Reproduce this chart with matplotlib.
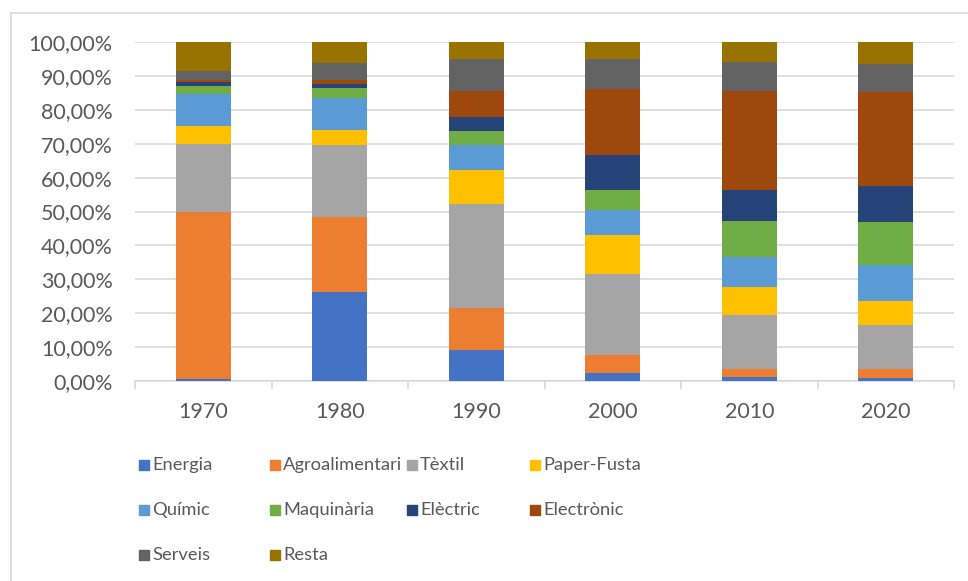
import numpy as np
import matplotlib
matplotlib.use("Agg")
import matplotlib.pyplot as plt
from matplotlib.patches import Rectangle
from matplotlib.lines import Line2D
from matplotlib.ticker import FuncFormatter, FixedLocator

# --- dades (percentatges per decada) ---
years = ["1970", "1980", "1990", "2000", "2010", "2020"]
sectors = ["Energia", "Agroalimentari", "Tèxtil", "Paper-Fusta", "Químic",
           "Maquinària", "Elèctric", "Electrònic", "Serveis", "Resta"]
energia = [0.5, 26.3, 9.2, 2.5, 1.3, 0.9]
agroalimentari = [49.4, 22.0, 12.2, 5.3, 2.2, 2.6]
textil = [20.1, 21.3, 30.8, 23.9, 16.0, 12.9]
paper_fusta = [5.3, 4.4, 9.9, 11.4, 8.3, 7.3]
quimic = [9.5, 9.4, 7.5, 7.2, 8.7, 10.5]
maquinaria = [2.3, 3.0, 4.2, 6.0, 10.7, 12.6]
electric = [1.2, 1.3, 4.1, 10.3, 9.1, 10.7]
electronic = [0.5, 1.2, 7.7, 19.4, 29.3, 27.8]
serveis = [2.6, 4.9, 9.3, 9.1, 8.4, 8.3]
resta = [8.6, 6.3, 5.1, 4.9, 6.0, 6.4]

colors = ["#4472C4", "#ED7D31", "#A5A5A5", "#FFC000", "#5B9BD5",
          "#70AD47", "#264478", "#9E480E", "#636363", "#997300"]

series = [energia, agroalimentari, textil, paper_fusta, quimic,
          maquinaria, electric, electronic, serveis, resta]

plt.rcParams["font.family"] = ["Lato", "DejaVu Sans"]
text_color = "#595959"
grid_color = "#d9d9d9"

fig = plt.figure(figsize=(9.68, 5.81), dpi=100)
fig.patch.set_facecolor("white")
ax = fig.add_axes([135 / 968, 1 - 381 / 581, (954 - 135) / 968, (381 - 42) / 581])

x = np.arange(len(years))
bottom = np.zeros(len(years))
for vals, col in zip(series, colors):
    v = np.array(vals) / 100.0
    ax.bar(x, v, width=0.4, bottom=bottom, color=col, zorder=3)
    bottom += v

ax.set_xlim(-0.5, len(years) - 0.5)
ax.set_ylim(0, 1)
ax.set_yticks(np.arange(0, 1.01, 0.1))
ax.yaxis.set_major_formatter(FuncFormatter(lambda v, p: f"{v * 100:.2f}%".replace(".", ",")))
ax.grid(axis="y", color=grid_color, linewidth=1.2, zorder=0)
ax.set_xticks(x)
ax.set_xticklabels(years)
ax.xaxis.set_minor_locator(FixedLocator(np.arange(-0.5, len(years), 1.0)))
ax.tick_params(axis="x", which="major", length=0, pad=15, labelsize=15.5, labelcolor=text_color)
ax.tick_params(axis="x", which="minor", length=6, width=1.2, color=grid_color)
ax.tick_params(axis="y", length=0, pad=16, labelsize=15.5, labelcolor=text_color)
for side in ["left", "right", "top"]:
    ax.spines[side].set_visible(False)
ax.spines["bottom"].set_color(grid_color)
ax.spines["bottom"].set_linewidth(1.2)

# llegenda manual (columnes com a l'original)
col_x = [139, 270, 407, 530]
row_y = [465, 510, 555]
W, H = 968.0, 581.0
for i, (name, col) in enumerate(zip(sectors, colors)):
    cx = col_x[i % 4]
    cy = row_y[i // 4]
    fig.add_artist(Rectangle((cx / W, 1 - (cy + 5) / H), 10 / W, 10 / H,
                             transform=fig.transFigure, color=col))
    fig.text((cx + 13) / W, 1 - cy / H, name, fontsize=13.2, color=text_color,
             va="center", ha="left")

# marc del grafic
fig.add_artist(Line2D([11 / W, 11 / W], [0, 1 - 13 / H], transform=fig.transFigure,
                      color=grid_color, linewidth=1.2))
fig.add_artist(Line2D([11 / W, 1], [1 - 13 / H, 1 - 13 / H], transform=fig.transFigure,
                      color=grid_color, linewidth=1.2))

fig.savefig("out.png", dpi=100, facecolor=fig.get_facecolor())
